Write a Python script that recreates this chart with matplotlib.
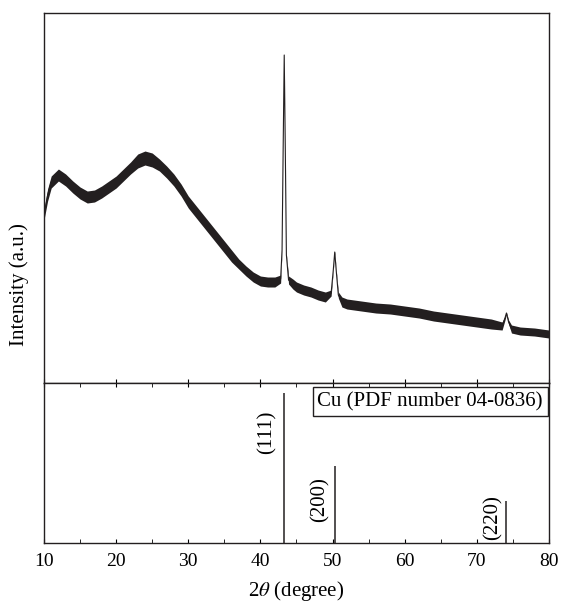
import matplotlib
matplotlib.use("Agg")
import matplotlib.pyplot as plt
from matplotlib.ticker import MultipleLocator
import numpy as np

plt.rcParams['font.family'] = ['Liberation Serif', 'DejaVu Serif']
plt.rcParams['mathtext.fontset'] = 'stix'

# XRD pattern (arbitrary intensity units)
two_theta = [10, 10.5, 11, 12, 13, 14, 15, 16, 17, 18, 19, 20, 21, 22, 23, 24, 25, 26, 27, 28,
             29, 30, 31, 32, 33, 34, 35, 36, 37, 38, 39, 40, 41, 42, 42.8, 43.0, 43.15, 43.3,
             43.45, 43.6, 43.9, 44.5, 45, 46, 47, 48, 49, 49.8, 50.1, 50.3, 50.5, 50.8, 51.3,
             52, 54, 56, 58, 60, 62, 64, 66, 68, 70, 72, 73.5, 73.9, 74.1, 74.4, 74.8, 76, 78, 80]
intensity = [168, 188, 201, 208, 203, 196, 190, 186, 187, 191, 196, 201, 208, 215, 222, 225, 223, 218,
             211, 203, 193, 181, 172, 163, 154, 145, 136, 127, 119, 112, 106, 102, 101, 101, 104, 133,
             233, 328, 233, 128, 103, 99, 96, 93, 91, 88, 86, 90, 113, 131, 113, 88, 81,
             79, 77, 75, 74, 72, 70, 67, 65, 63, 61, 59, 57, 65, 70, 61, 54, 52, 51, 49]
noise_halfwidth = [5, 6, 6, 6, 6, 6, 6, 6, 6, 6, 6, 6, 6, 6, 7, 7, 7, 6,
                   6, 6, 6, 6, 6, 6, 6, 6, 6, 6, 5, 5, 5, 5, 5, 5, 4, 1,
                   1, 1, 1, 1, 4, 5, 5, 5, 5, 5, 5, 3, 1, 1, 1, 3, 5,
                   5, 5, 5, 5, 5, 5, 5, 5, 5, 5, 5, 4, 2, 1, 2, 4, 4, 4, 4]

# Cu reference (PDF 04-0836)
ref_positions = [43.3, 50.4, 74.1]
ref_intensity = [94, 48, 26]
ref_labels = ['(111)', '(200)', '(220)']
ref_label_x = [40.9, 48.3, 72.2]
ref_label_y = [0.69, 0.27, 0.16]

line_color = '#231f20'

fig = plt.figure(figsize=(5.61, 6.05), dpi=100)
ax1 = fig.add_axes([0.0784, 0.3669, 0.9002, 0.6116])
ax2 = fig.add_axes([0.0784, 0.1025, 0.9002, 0.2645], sharex=ax1)

tt = np.array(two_theta)
ii = np.array(intensity)
hw = np.array(noise_halfwidth)
ax1.fill_between(tt, ii - hw, ii + hw, color=line_color, lw=0)
ax1.plot(tt, ii, color=line_color, lw=0.8)
ax1.set_xlim(10, 80)
ax1.set_ylim(0, 370)
ax1.set_yticks([])
ax1.set_ylabel('Intensity (a.u.)', fontsize=15)
ax1.yaxis.set_label_coords(-0.030, 0.265)
ax1.xaxis.set_major_locator(MultipleLocator(10))
ax1.tick_params(axis='x', direction='in', length=3, labelbottom=False, bottom=True, top=False)
ax1.tick_params(axis='x', which='minor', length=0)

ax2.vlines(ref_positions, 0, ref_intensity, color=line_color, lw=1.1)
ax2.set_ylim(0, 100)
ax2.set_yticks([])
ax2.xaxis.set_major_locator(MultipleLocator(10))
ax2.xaxis.set_minor_locator(MultipleLocator(5))
ax2.tick_params(axis='x', which='both', direction='in', length=3, top=True, bottom=True,
                labelsize=14, pad=7)
ax2.set_xlabel(r'2$\theta$ (degree)', fontsize=15, labelpad=7)
for lab, x, y in zip(ref_labels, ref_label_x, ref_label_y):
    ax2.text(x, y, lab, rotation=90, ha='center', va='center', fontsize=15,
             transform=ax2.get_xaxis_transform())
ax2.text(0.988, 0.944, 'Cu (PDF number 04-0836)', transform=ax2.transAxes, ha='right', va='top',
         fontsize=15, bbox=dict(boxstyle='square,pad=0.22', fc='white', ec=line_color, lw=1))

for ax in (ax1, ax2):
    for s in ax.spines.values():
        s.set_linewidth(1.0)
        s.set_color(line_color)

fig.savefig('out.png', dpi=100)
